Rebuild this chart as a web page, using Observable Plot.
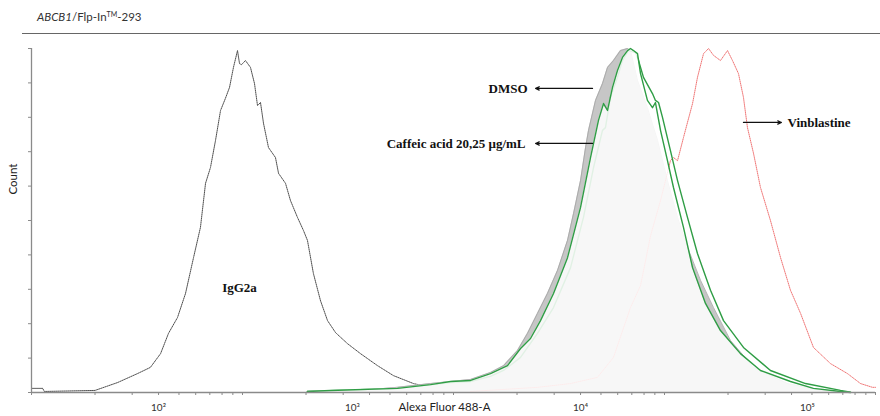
<!DOCTYPE html>
<html><head><meta charset="utf-8">
<script src="https://cdn.jsdelivr.net/npm/d3@7"></script>
<script src="https://cdn.jsdelivr.net/npm/@observablehq/plot@0.6"></script>
<style>
body{margin:0;background:#fff;}
#wrap{position:relative;width:880px;height:416px;overflow:hidden;}
#chart{position:absolute;left:0;top:0;}
#title{position:absolute;left:37px;top:10px;font:11.5px Lato, "Open Sans", sans-serif;color:#333;white-space:nowrap;}
#title .tm{font-size:7px;position:relative;top:-4px;}
#rule{position:absolute;left:22px;right:0;top:33px;border-top:1px solid #666;}
</style></head><body>
<div id="wrap">
  <div id="chart"></div>
  <div id="title"><i>ABCB1</i>/Flp-In<span class="tm">TM</span>-293</div>
  <div id="rule"></div>
</div>
<script>
// ---- data (fluorescence intensity, % of max count) ----
const igg2aX = [10, 11.3, 11.5, 20, 25.6, 31.8, 36.6, 40.9, 44.6, 49.2, 53.7, 58.6, 63.2, 66.8, 70.5, 74.5, 78.7, 83, 86.8, 90.6, 94.7, 96.8, 98.9, 103.3, 109.1, 114, 117.8, 121.7, 125.8, 132.8, 143.3, 148.2, 159.9, 168.8, 182.2, 194.5, 203.2, 216.8, 234.2, 252.9, 276.1, 314.5, 362.4, 436.5, 519.6, 646, 778, 968, 1271, 1600];
const igg2aY = [1.2, 1.2, 0.3, 0.6, 2.9, 5.5, 7.3, 11.3, 17.2, 21.8, 28.8, 39.2, 48.0, 60.8, 65.4, 73.3, 82.0, 85.5, 88.7, 94.5, 99.4, 95.6, 95.3, 96.5, 94.5, 89.8, 83.4, 84.3, 78.2, 71.2, 68.3, 63.7, 60.8, 55.8, 50.9, 47.1, 44.2, 34.6, 26.7, 20.9, 17.4, 14.2, 11.3, 7.8, 4.9, 2.6, 1.5, 0.9, 0.3, 0];

const dmsoX = [203, 362, 543, 778, 968, 1205, 1497, 1726, 2010, 2243, 2500, 2788, 3112, 3470, 3706, 4000, 4225, 4365, 4710, 5083, 5370, 5730, 6185, 6680, 6900, 7450, 8300, 9270, 10330, 11530, 12850, 14820, 17070, 20560, 26420, 38280, 54830, 76200];
const dmsoY = [0.3, 0.6, 1.5, 2.6, 3.2, 3.8, 5.8, 7.8, 12.2, 17.2, 23.0, 28.8, 35.5, 44.2, 52.0, 61.6, 71.2, 76.2, 84.9, 89.8, 94.5, 96.5, 99.4, 100, 99.4, 90.7, 82.8, 73.3, 61.6, 50.9, 42.2, 32.6, 24.7, 15.1, 7.3, 2.6, 0.6, 0];

const greenAX = [203, 261, 543, 778, 968, 1205, 1497, 1803, 2078, 2317, 2584, 2978, 3470, 4000, 4460, 4865, 5140, 5370, 5670, 5985, 6320, 6680, 6900, 7130, 7450, 7700, 8300, 8770, 9060, 9575, 10330, 11030, 12300, 13580, 15640, 18420, 22910, 28500, 39550, 50800, 68240, 76200];
const greenAY = [0.3, 0.6, 1.2, 2.3, 3.2, 3.5, 5.5, 7.8, 12.8, 15.7, 20.9, 28.8, 39.2, 53.8, 68.3, 79.1, 84.0, 82.0, 88.7, 93.6, 97.4, 99.4, 100, 99.4, 98.5, 92.7, 84.9, 82.8, 84.3, 76.2, 67.4, 59.6, 48.0, 36.3, 25.9, 18.0, 11.3, 6.4, 3.2, 1.2, 0.3, 0];

const greenBX = [203, 543, 968, 1205, 1497, 1726, 2078, 2500, 2978, 3587, 4130, 4610, 5083, 5250, 5545, 5985, 6320, 6750, 7290, 7530, 7950, 8770, 9060, 9370, 9790, 10670, 11530, 12850, 14330, 16520, 19040, 23670, 31780, 46590, 68240, 76200];
const greenBY = [0.3, 1.2, 2.9, 3.2, 4.7, 6.4, 10.2, 17.2, 24.7, 36.3, 50.9, 65.4, 76.2, 77.0, 85.8, 91.6, 96.5, 99.4, 98.8, 96.5, 91.6, 86.9, 84.9, 84.3, 79.9, 70.3, 61.6, 50.9, 40.4, 29.7, 20.9, 13.1, 6.4, 2.6, 0.6, 0.1];

const vinX = [1205, 2500, 3589, 4810, 5730, 6900, 7700, 8590, 9575, 10670, 11030, 11530, 12300, 12850, 13580, 14330, 15310, 16170, 17070, 18420, 19890, 21000, 22420, 23670, 24730, 26420, 28500, 31780, 35480, 39550, 44140, 50800, 61200, 73640, 84920, 96800, 100000];
const vinY = [0.3, 1.5, 2.6, 4.4, 10.2, 24.7, 31.1, 45.6, 55.8, 67.4, 68.3, 67.4, 74.1, 78.5, 84.0, 91.6, 98.5, 100, 98.0, 96.5, 99.4, 96.5, 92.7, 85.8, 77.0, 69.5, 59.6, 50.0, 39.2, 29.7, 23.0, 13.1, 8.4, 5.5, 2.6, 1.5, 1.5];

const xTicks = [10,20,30,40,50,60,70,80,90,100,200,300,400,500,600,700,800,900,1000,2000,3000,4000,5000,6000,7000,8000,9000,10000,20000,30000,40000,50000,60000,70000,80000,90000,100000];
const yTicks = [0,10,20,30,40,50,60,70,80,90,100];
const tickLabelText = ["10\u00B2", "10\u00B3", "10\u2074", "10\u2075"];
const tickLabelX = [40, 332, 4000, 47600];

const annText = ["DMSO", "Caffeic acid 20,25 \u03BCg/mL", "Vinblastine", "IgG2a"];
const annX = [2243, 2194, 38280, 96.8];
const annY = [88.4, 72.4, 78.5, 30.5];
const arrowX1 = [4560, 4560, 23670];
const arrowX2 = [2450, 2450, 35810];
const arrowY = [88.4, 72.4, 78.5];

// ---- build ----
const pts = (xs, ys) => xs.map((x, i) => ({x, y: ys[i]}));
const igg2a = pts(igg2aX, igg2aY);
const dmso = pts(dmsoX, dmsoY);
const greenA = pts(greenAX, greenAY);
const greenB = pts(greenBX, greenBY);
const vin = pts(vinX, vinY);
const green = "#2f9d45";
const serif = {fontFamily: "'Liberation Serif', 'Times New Roman', serif", fontWeight: "bold", fontSize: 13, fill: "#111"};
const sans = "Lato, 'Open Sans', sans-serif";

const chart = Plot.plot({
  width: 880, height: 416,
  marginTop: 48, marginBottom: 24, marginLeft: 31, marginRight: 5,
  x: {type: "log", domain: [10, 100000]},
  y: {domain: [0, 100]},
  style: {background: "white"},
  marks: [
    Plot.line(igg2a, {x: "x", y: "y", stroke: "#4d4d4d", strokeWidth: 1, strokeDasharray: "1,1"}),
    Plot.areaY(dmso, {x: "x", y: "y", fill: "#c6c6c6"}),
    Plot.line(dmso, {x: "x", y: "y", stroke: "#a3a3a3", strokeWidth: 0.8}),
    Plot.line(vin, {x: "x", y: "y", stroke: "#f07474", strokeWidth: 1, strokeDasharray: "0.9,1.1"}),
    Plot.line(greenB, {x: "x", y: "y", stroke: green, strokeWidth: 1.4}),
    Plot.areaY(greenA, {x: "x", y: "y", fill: "white", fillOpacity: 0.86}),
    Plot.line(greenA, {x: "x", y: "y", stroke: green, strokeWidth: 1.4}),
    Plot.ruleX([10], {stroke: "#8a8a8a", strokeWidth: 1.3}),
    Plot.ruleY([0], {stroke: "#8a8a8a", strokeWidth: 1.3}),
    Plot.axisY({ticks: yTicks, tickFormat: () => "", tickSize: 3, stroke: "#8a8a8a", label: null}),
    Plot.axisX({ticks: xTicks, tickFormat: () => "", tickSize: 3, stroke: "#8a8a8a", label: null}),
    Plot.text(tickLabelText, {x: (d, i) => tickLabelX[i], text: d => d, frameAnchor: "bottom", dy: 18, fontSize: 10, fill: "#333", fontFamily: sans}),
    Plot.text(["Alexa Fluor 488-A"], {text: d => d, frameAnchor: "bottom", dx: -9, dy: 18, fontSize: 11.5, fill: "#222", fontFamily: sans}),
    Plot.text(["Count"], {text: d => d, frameAnchor: "left", dx: -18, dy: -26, rotate: -90, fontSize: 11.5, fill: "#222", fontFamily: sans}),
    Plot.arrow(arrowY.map((y, i) => i), {x1: i => arrowX1[i], x2: i => arrowX2[i], y1: i => arrowY[i], y2: i => arrowY[i], stroke: "#111", strokeWidth: 1.2, headLength: 5, headAngle: 50}),
    Plot.text([0, 1], {x: i => annX[i], y: i => annY[i], text: i => annText[i], textAnchor: "end", ...serif}),
    Plot.text([2], {x: i => annX[i], y: i => annY[i], text: i => annText[i], textAnchor: "start", ...serif}),
    Plot.text([3], {x: i => annX[i], y: i => annY[i], text: i => annText[i], textAnchor: "middle", ...serif})
  ]
});
document.getElementById("chart").appendChild(chart);
</script>
</body></html>
